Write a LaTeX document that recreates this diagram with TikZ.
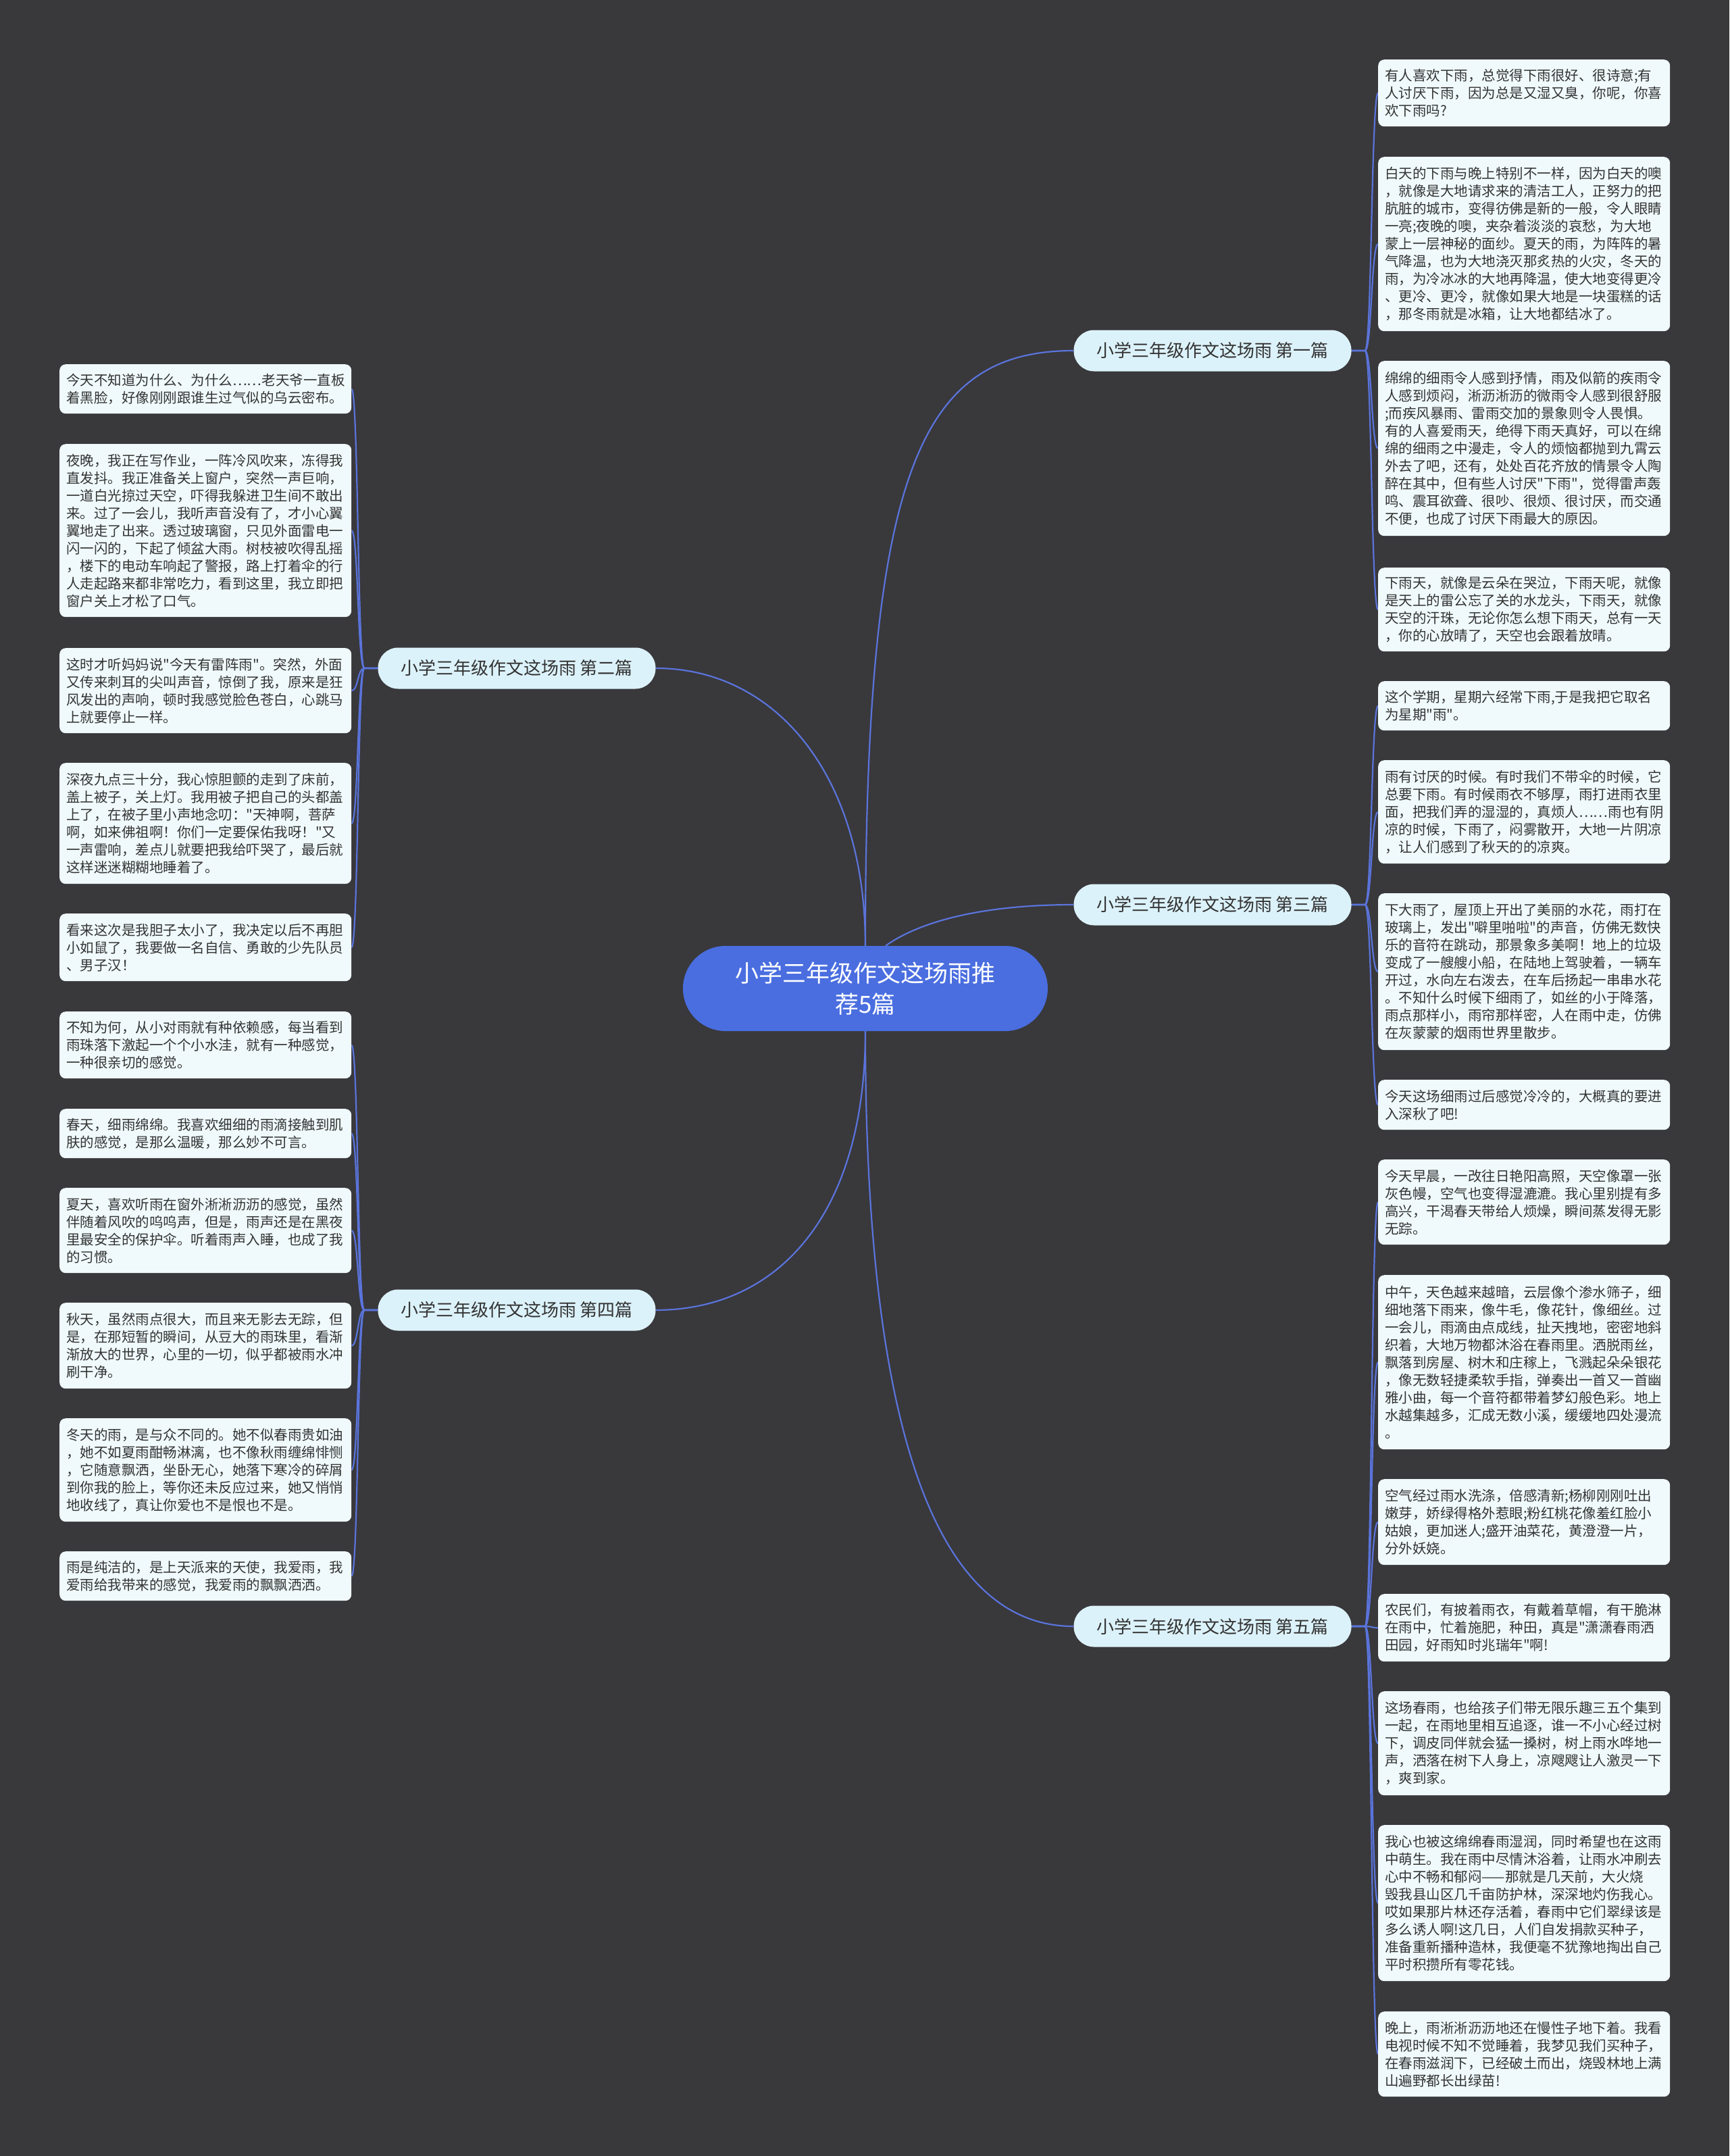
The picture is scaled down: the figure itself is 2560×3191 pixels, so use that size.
\documentclass[tikz,border=0pt]{standalone}
\usepackage{fontspec}
\setmainfont{Noto Sans CJK SC}[Ligatures=TeXOff]
\usetikzlibrary{calc}
\definecolor{bgc}{HTML}{39383B}
\definecolor{connc}{HTML}{5A74DB}
\definecolor{centerc}{HTML}{4A6EE0}
\definecolor{branchc}{HTML}{DCF2FA}
\definecolor{leafc}{HTML}{F0FAFC}
\definecolor{textc}{HTML}{333333}
\pgfdeclarelayer{bg}
\pgfsetlayers{bg,main}
\tikzset{
  leaf/.style={fill=leafc, rounded corners=9pt, inner xsep=10pt, inner ysep=0pt,
    text width=412pt, align=left, anchor=north west, text=textc,
    font=\fontsize{20.5pt}{26pt}\selectfont},
  branch/.style={fill=branchc, rounded corners=30pt, minimum width=411pt, minimum height=61pt,
    inner sep=0pt, text=textc, font=\fontsize{26pt}{30pt}\selectfont},
  centre/.style={fill=centerc, rounded corners=63pt, minimum width=540pt, minimum height=126pt,
    inner sep=0pt, text=white, align=center, font=\fontsize{35pt}{46pt}\selectfont},
  conn/.style={draw=connc, line width=2.2pt}
}
\begin{document}
\begin{tikzpicture}[x=1pt,y=-1pt]
\begin{pgfonlayer}{bg}
\fill[bgc] (0,0) rectangle (2560,3191);
\end{pgfonlayer}
\useasboundingbox (0,0) rectangle (2560,3191);

% centre and branches
\node[centre] (c) at (1281,1463) {小学三年级作文这场雨推\\荐5篇};
\node[branch] (b1) at (1795,519) {小学三年级作文这场雨 第一篇};
\node[branch] (b3) at (1795,1339) {小学三年级作文这场雨 第三篇};
\node[branch] (b5) at (1795,2407) {小学三年级作文这场雨 第五篇};
\node[branch] (b2) at (765,989) {小学三年级作文这场雨 第二篇};
\node[branch] (b4) at (765,1939) {小学三年级作文这场雨 第四篇};

% right leaves, group 1
\node[leaf, minimum height=99pt] (r1) at (2040,88) {有人喜欢下雨，总觉得下雨很好、很诗意;有\\人讨厌下雨，因为总是又湿又臭，你呢，你喜\\欢下雨吗?};
\node[leaf, minimum height=258pt] (r2) at (2040,232) {白天的下雨与晚上特别不一样，因为白天的噢\\，就像是大地请求来的清洁工人，正努力的把\\肮脏的城市，变得彷佛是新的一般，令人眼睛\\一亮;夜晚的噢，夹杂着淡淡的哀愁，为大地\\蒙上一层神秘的面纱。夏天的雨，为阵阵的暑\\气降温，也为大地浇灭那炙热的火灾，冬天的\\雨，为冷冰冰的大地再降温，使大地变得更冷\\、更冷、更冷，就像如果大地是一块蛋糕的话\\，那冬雨就是冰箱，让大地都结冰了。};
\node[leaf, minimum height=259pt] (r3) at (2040,534) {绵绵的细雨令人感到抒情，雨及似箭的疾雨令\\人感到烦闷，淅沥淅沥的微雨令人感到很舒服\\;而疾风暴雨、雷雨交加的景象则令人畏惧。\\有的人喜爱雨天，绝得下雨天真好，可以在绵\\绵的细雨之中漫走，令人的烦恼都抛到九霄云\\外去了吧，还有，处处百花齐放的情景令人陶\\醉在其中，但有些人讨厌"下雨"，觉得雷声轰\\鸣、震耳欲聋、很吵、很烦、很讨厌，而交通\\不便，也成了讨厌下雨最大的原因。};
\node[leaf, minimum height=124pt] (r4) at (2040,840) {下雨天，就像是云朵在哭泣，下雨天呢，就像\\是天上的雷公忘了关的水龙头，下雨天，就像\\天空的汗珠，无论你怎么想下雨天，总有一天\\，你的心放晴了，天空也会跟着放晴。};

% right leaves, group 3
\node[leaf, minimum height=73pt] (r5) at (2040,1008) {这个学期，星期六经常下雨,于是我把它取名\\为星期"雨"。};
\node[leaf, minimum height=153pt] (r6) at (2040,1125) {雨有讨厌的时候。有时我们不带伞的时候，它\\总要下雨。有时候雨衣不够厚，雨打进雨衣里\\面，把我们弄的湿湿的，真烦人……雨也有阴\\凉的时候，下雨了，闷雾散开，大地一片阴凉\\，让人们感到了秋天的的凉爽。};
\node[leaf, minimum height=232pt] (r7) at (2040,1322) {下大雨了，屋顶上开出了美丽的水花，雨打在\\玻璃上，发出"噼里啪啦"的声音，仿佛无数快\\乐的音符在跳动，那景象多美啊！地上的垃圾\\变成了一艘艘小船，在陆地上驾驶着，一辆车\\开过，水向左右泼去，在车后扬起一串串水花\\。不知什么时候下细雨了，如丝的小于降落，\\雨点那样小，雨帘那样密，人在雨中走，仿佛\\在灰蒙蒙的烟雨世界里散步。};
\node[leaf, minimum height=74pt] (r8) at (2040,1598) {今天这场细雨过后感觉冷冷的，大概真的要进\\入深秋了吧!};

% right leaves, group 5
\node[leaf, minimum height=126pt] (r9) at (2040,1716) {今天早晨，一改往日艳阳高照，天空像罩一张\\灰色幔，空气也变得湿漉漉。我心里别提有多\\高兴，干渴春天带给人烦燥，瞬间蒸发得无影\\无踪。};
\node[leaf, minimum height=258pt] (r10) at (2040,1887) {中午，天色越来越暗，云层像个渗水筛子，细\\细地落下雨来，像牛毛，像花针，像细丝。过\\一会儿，雨滴由点成线，扯天拽地，密密地斜\\织着，大地万物都沐浴在春雨里。洒脱雨丝，\\飘落到房屋、树木和庄稼上，飞溅起朵朵银花\\，像无数轻捷柔软手指，弹奏出一首又一首幽\\雅小曲，每一个音符都带着梦幻般色彩。地上\\水越集越多，汇成无数小溪，缓缓地四处漫流\\。};
\node[leaf, minimum height=127pt] (r11) at (2040,2189) {空气经过雨水洗涤，倍感清新;杨柳刚刚吐出\\嫩芽，娇绿得格外惹眼;粉红桃花像羞红脸小\\姑娘，更加迷人;盛开油菜花，黄澄澄一片，\\分外妖娆。};
\node[leaf, minimum height=100pt] (r12) at (2040,2359) {农民们，有披着雨衣，有戴着草帽，有干脆淋\\在雨中，忙着施肥，种田，真是"潇潇春雨洒\\田园，好雨知时兆瑞年"啊!};
\node[leaf, minimum height=154pt] (r13) at (2040,2503) {这场春雨，也给孩子们带无限乐趣三五个集到\\一起，在雨地里相互追逐，谁一不小心经过树\\下，调皮同伴就会猛一搡树，树上雨水哗地一\\声，洒落在树下人身上，凉飕飕让人激灵一下\\，爽到家。};
\node[leaf, minimum height=231pt] (r14) at (2040,2701) {我心也被这绵绵春雨湿润，同时希望也在这雨\\中萌生。我在雨中尽情沐浴着，让雨水冲刷去\\心中不畅和郁闷——那就是几天前，大火烧\\毁我县山区几千亩防护林，深深地灼伤我心。\\哎如果那片林还存活着，春雨中它们翠绿该是\\多么诱人啊!这几日，人们自发捐款买种子，\\准备重新播种造林，我便毫不犹豫地掏出自己\\平时积攒所有零花钱。};
\node[leaf, minimum height=126pt] (r15) at (2040,2977) {晚上，雨淅淅沥沥地还在慢性子地下着。我看\\电视时候不知不觉睡着，我梦见我们买种子，\\在春雨滋润下，已经破土而出，烧毁林地上满\\山遍野都长出绿苗!};

% left leaves, group 2
\node[leaf, minimum height=73pt] (l1) at (88,539) {今天不知道为什么、为什么……老天爷一直板\\着黑脸，好像刚刚跟谁生过气似的乌云密布。};
\node[leaf, minimum height=256pt] (l2) at (88,657) {夜晚，我正在写作业，一阵冷风吹来，冻得我\\直发抖。我正准备关上窗户，突然一声巨响，\\一道白光掠过天空，吓得我躲进卫生间不敢出\\来。过了一会儿，我听声音没有了，才小心翼\\翼地走了出来。透过玻璃窗，只见外面雷电一\\闪一闪的，下起了倾盆大雨。树枝被吹得乱摇\\，楼下的电动车响起了警报，路上打着伞的行\\人走起路来都非常吃力，看到这里，我立即把\\窗户关上才松了口气。};
\node[leaf, minimum height=126pt] (l3) at (88,959) {这时才听妈妈说"今天有雷阵雨"。突然，外面\\又传来刺耳的尖叫声音，惊倒了我，原来是狂\\风发出的声响，顿时我感觉脸色苍白，心跳马\\上就要停止一样。};
\node[leaf, minimum height=179pt] (l4) at (88,1129) {深夜九点三十分，我心惊胆颤的走到了床前，\\盖上被子，关上灯。我用被子把自己的头都盖\\上了，在被子里小声地念叨："天神啊，菩萨\\啊，如来佛祖啊！你们一定要保佑我呀！"又\\一声雷响，差点儿就要把我给吓哭了，最后就\\这样迷迷糊糊地睡着了。};
\node[leaf, minimum height=100pt] (l5) at (88,1352) {看来这次是我胆子太小了，我决定以后不再胆\\小如鼠了，我要做一名自信、勇敢的少先队员\\、男子汉！};

% left leaves, group 4
\node[leaf, minimum height=99pt] (l6) at (88,1497) {不知为何，从小对雨就有种依赖感，每当看到\\雨珠落下激起一个个小水洼，就有一种感觉，\\一种很亲切的感觉。};
\node[leaf, minimum height=73pt] (l7) at (88,1641) {春天，细雨绵绵。我喜欢细细的雨滴接触到肌\\肤的感觉，是那么温暖，那么妙不可言。};
\node[leaf, minimum height=126pt] (l8) at (88,1758) {夏天，喜欢听雨在窗外淅淅沥沥的感觉，虽然\\伴随着风吹的呜呜声，但是，雨声还是在黑夜\\里最安全的保护伞。听着雨声入睡，也成了我\\的习惯。};
\node[leaf, minimum height=127pt] (l9) at (88,1928) {秋天，虽然雨点很大，而且来无影去无踪，但\\是，在那短暂的瞬间，从豆大的雨珠里，看渐\\渐放大的世界，心里的一切，似乎都被雨水冲\\刷干净。};
\node[leaf, minimum height=153pt] (l10) at (88,2099) {冬天的雨，是与众不同的。她不似春雨贵如油\\，她不如夏雨酣畅淋漓，也不像秋雨缠绵悱恻\\，它随意飘洒，坐卧无心，她落下寒冷的碎屑\\到你我的脸上，等你还未反应过来，她又悄悄\\地收线了，真让你爱也不是恨也不是。};
\node[leaf, minimum height=73pt] (l11) at (88,2296) {雨是纯洁的，是上天派来的天使，我爱雨，我\\爱雨给我带来的感觉，我爱雨的飘飘洒洒。};

\begin{pgfonlayer}{bg}
% centre to branches
\draw[conn] (c.north) .. controls (1281,700) and (1360,519) .. (b1.west);
\draw[conn] (c.north) .. controls (1281,1150) and (1150,989) .. (b2.east);
\draw[conn] ($(c.north)+(30,0)$) .. controls (1360,1365) and (1450,1339) .. (b3.west);
\draw[conn] (c.south) .. controls (1281,1800) and (1150,1939) .. (b4.east);
\draw[conn] (c.south) .. controls (1281,2100) and (1380,2407) .. (b5.west);
% branches to leaves
\foreach \l in {r1,r2,r3,r4}
  \draw[conn] (b1.east) -- ++(20,0) .. controls +(10,0) and +(-10,0) .. (\l.west);
\foreach \l in {r5,r6,r7,r8}
  \draw[conn] (b3.east) -- ++(20,0) .. controls +(10,0) and +(-10,0) .. (\l.west);
\foreach \l in {r9,r10,r11,r12,r13,r14,r15}
  \draw[conn] (b5.east) -- ++(20,0) .. controls +(10,0) and +(-10,0) .. (\l.west);
\foreach \l in {l1,l2,l3,l4,l5}
  \draw[conn] (b2.west) -- ++(-20,0) .. controls +(-10,0) and +(10,0) .. (\l.east);
\foreach \l in {l6,l7,l8,l9,l10,l11}
  \draw[conn] (b4.west) -- ++(-20,0) .. controls +(-10,0) and +(10,0) .. (\l.east);
\end{pgfonlayer}
\end{tikzpicture}
\end{document}
